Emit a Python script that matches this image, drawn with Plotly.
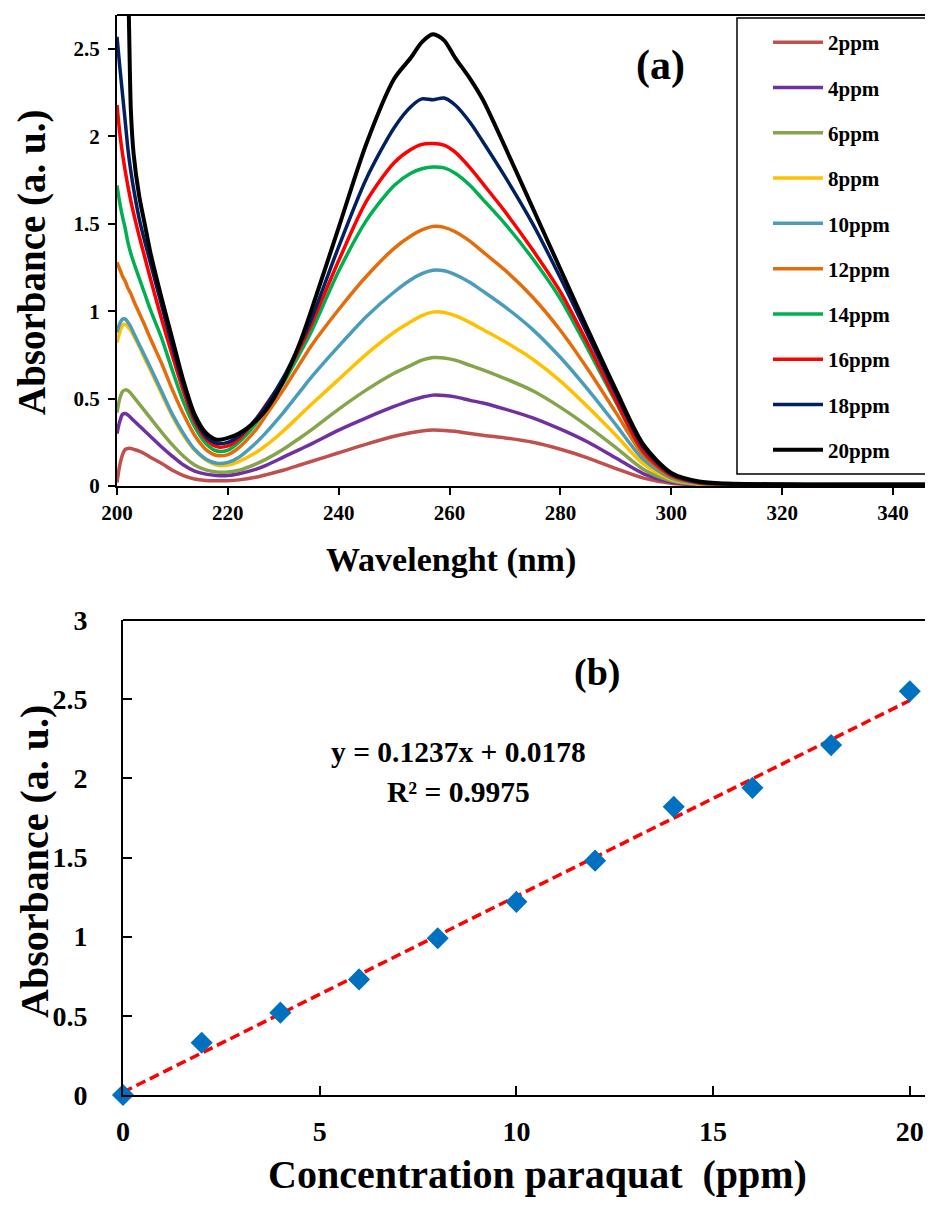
import plotly.graph_objects as go

# ---------------- Panel (a): UV-Vis spectra ----------------
wavelength = [200, 200.5, 201, 201.5, 202, 202.5, 203, 204, 205, 206, 208, 210, 212, 214, 216, 218,
              220, 222, 225, 227, 230, 233, 235, 240, 245, 250, 253, 255, 257, 259, 261, 263.7,
              266, 270, 275, 280, 285, 290, 295, 300, 305, 310, 320, 330, 340, 347]

a_2ppm = [0.02, 0.12, 0.18, 0.21, 0.215, 0.215, 0.21, 0.20, 0.185, 0.165, 0.13, 0.09, 0.06, 0.04, 0.032, 0.03,
          0.03, 0.035, 0.05, 0.065, 0.09, 0.12, 0.14, 0.19, 0.24, 0.285, 0.305, 0.315, 0.32, 0.318, 0.313, 0.30,
          0.29, 0.275, 0.25, 0.21, 0.16, 0.10, 0.045, 0.015, 0.006, 0.004, 0.003, 0.003, 0.003, 0.003]
a_4ppm = [0.30, 0.37, 0.41, 0.415, 0.405, 0.39, 0.375, 0.345, 0.315, 0.285, 0.225, 0.17, 0.12, 0.085, 0.068, 0.06,
          0.06, 0.07, 0.095, 0.12, 0.165, 0.21, 0.24, 0.32, 0.39, 0.455, 0.49, 0.508, 0.52, 0.518, 0.51, 0.49,
          0.475, 0.44, 0.39, 0.325, 0.25, 0.16, 0.07, 0.022, 0.008, 0.005, 0.004, 0.004, 0.004, 0.004]
a_6ppm = [0.42, 0.50, 0.54, 0.55, 0.545, 0.53, 0.51, 0.47, 0.43, 0.39, 0.31, 0.235, 0.17, 0.12, 0.092, 0.08,
          0.08, 0.09, 0.125, 0.155, 0.21, 0.275, 0.32, 0.44, 0.55, 0.645, 0.69, 0.72, 0.735, 0.733, 0.72, 0.69,
          0.665, 0.615, 0.545, 0.45, 0.34, 0.22, 0.095, 0.03, 0.01, 0.006, 0.005, 0.005, 0.005, 0.005]
a_8ppm = [0.82, 0.88, 0.92, 0.925, 0.91, 0.89, 0.86, 0.80, 0.73, 0.665, 0.53, 0.40, 0.29, 0.205, 0.15, 0.12,
          0.12, 0.14, 0.19, 0.235, 0.315, 0.405, 0.465, 0.61, 0.755, 0.88, 0.94, 0.975, 0.995, 0.993, 0.975, 0.935,
          0.895, 0.825, 0.725, 0.60, 0.45, 0.29, 0.125, 0.038, 0.012, 0.007, 0.006, 0.006, 0.006, 0.006]
a_10ppm = [0.88, 0.93, 0.955, 0.955, 0.935, 0.91, 0.875, 0.81, 0.745, 0.68, 0.545, 0.41, 0.30, 0.21, 0.155, 0.13,
           0.135, 0.165, 0.245, 0.31, 0.42, 0.54, 0.62, 0.80, 0.97, 1.11, 1.18, 1.215, 1.235, 1.232, 1.21, 1.165,
           1.115, 1.025, 0.895, 0.735, 0.55, 0.35, 0.15, 0.045, 0.014, 0.008, 0.006, 0.006, 0.006, 0.006]
a_12ppm = [1.28, 1.24, 1.20, 1.17, 1.13, 1.10, 1.06, 0.99, 0.92, 0.845, 0.705, 0.55, 0.41, 0.29, 0.21, 0.175,
           0.18, 0.22, 0.32, 0.41, 0.55, 0.70, 0.80, 1.01, 1.20, 1.36, 1.43, 1.465, 1.485, 1.48, 1.455, 1.40,
           1.34, 1.235, 1.08, 0.89, 0.665, 0.42, 0.175, 0.052, 0.016, 0.009, 0.007, 0.007, 0.007, 0.007]
a_14ppm = [1.72, 1.62, 1.54, 1.47, 1.39, 1.33, 1.28, 1.19, 1.10, 1.01, 0.85, 0.66, 0.48, 0.34, 0.245, 0.20,
           0.205, 0.25, 0.355, 0.45, 0.59, 0.76, 0.88, 1.23, 1.52, 1.72, 1.79, 1.815, 1.825, 1.82, 1.79, 1.72,
           1.64, 1.50, 1.30, 1.07, 0.78, 0.48, 0.19, 0.058, 0.018, 0.01, 0.008, 0.008, 0.008, 0.008]
a_16ppm = [2.18, 2.02, 1.90, 1.80, 1.71, 1.63, 1.56, 1.43, 1.31, 1.19, 0.96, 0.745, 0.54, 0.37, 0.27, 0.225,
           0.23, 0.27, 0.38, 0.47, 0.61, 0.79, 0.92, 1.29, 1.63, 1.85, 1.925, 1.955, 1.96, 1.95, 1.91, 1.82,
           1.73, 1.57, 1.35, 1.11, 0.81, 0.49, 0.195, 0.06, 0.019, 0.011, 0.008, 0.008, 0.008, 0.008]
a_18ppm = [2.57, 2.40, 2.24, 2.08, 1.92, 1.80, 1.70, 1.53, 1.40, 1.28, 1.04, 0.80, 0.575, 0.39, 0.285, 0.245,
           0.25, 0.285, 0.38, 0.465, 0.62, 0.81, 0.95, 1.37, 1.76, 2.05, 2.17, 2.215, 2.21, 2.22, 2.18, 2.08,
           1.97, 1.77, 1.50, 1.19, 0.86, 0.53, 0.22, 0.068, 0.022, 0.012, 0.009, 0.009, 0.009, 0.009]
a_20ppm = [3.6, 3.45, 3.3, 3.1, 2.85, 2.15, 1.9, 1.66, 1.50, 1.34, 1.08, 0.84, 0.60, 0.41, 0.305, 0.265,
           0.275, 0.30, 0.37, 0.44, 0.60, 0.82, 1.00, 1.48, 1.96, 2.33, 2.45, 2.54, 2.585, 2.55, 2.45, 2.33,
           2.21, 1.94, 1.59, 1.24, 0.89, 0.55, 0.235, 0.075, 0.026, 0.014, 0.01, 0.009, 0.009, 0.009]

series_names = ["2ppm", "4ppm", "6ppm", "8ppm", "10ppm", "12ppm", "14ppm", "16ppm", "18ppm", "20ppm"]
series_values = [a_2ppm, a_4ppm, a_6ppm, a_8ppm, a_10ppm, a_12ppm, a_14ppm, a_16ppm, a_18ppm, a_20ppm]
series_colors = ["#C0504D", "#7030A0", "#86A44A", "#FFC000", "#4A9DBA",
                 "#E46C0A", "#00B050", "#FF0000", "#002060", "#000000"]

a_xticks = [200, 220, 240, 260, 280, 300, 320, 340]
a_yticks = [0, 0.5, 1, 1.5, 2, 2.5]
a_ytick_text = ["0", "0.5", "1", "1.5", "2", "2.5"]

# ---------------- Panel (b): calibration ----------------
concentration = [0, 2, 4, 6, 8, 10, 12, 14, 16, 18, 20]
absorbance = [0, 0.33, 0.52, 0.73, 0.99, 1.22, 1.48, 1.82, 1.94, 2.21, 2.55]
slope = 0.1237
intercept = 0.0178
fit_x = [0, 20]
fit_y = [intercept + slope * v for v in fit_x]

b_xticks = [0, 5, 10, 15, 20]
b_yticks = [0, 0.5, 1, 1.5, 2, 2.5, 3]
b_ytick_text = ["0", "0.5", "1", "1.5", "2", "2.5", "3"]

W, H = 933, 1205
OFF = 8  # page body margin offset of the rendered figure


def px(x):
    return (x - OFF) / W


def py(y):
    return 1 - (y - OFF) / H


FONT = "Liberation Serif"

fig = go.Figure()

for name, vals, col in zip(series_names, series_values, series_colors):
    fig.add_trace(go.Scatter(
        x=wavelength, y=vals, mode="lines", name=name,
        line=dict(color=col, width=3.5 if col != "#000000" else 4, shape="spline", smoothing=0.8),
        xaxis="x", yaxis="y", legendgroup=name, showlegend=True,
    ))

fig.add_trace(go.Scatter(
    x=fit_x, y=fit_y, mode="lines", line=dict(color="#FF0000", width=3.5, dash="10px,5px"),
    xaxis="x2", yaxis="y2", showlegend=False,
))
fig.add_trace(go.Scatter(
    x=concentration, y=absorbance, mode="markers", cliponaxis=False,
    marker=dict(symbol="diamond", size=17, color="#0070C0"),
    xaxis="x2", yaxis="y2", showlegend=False,
))

axis_common = dict(showgrid=False, zeroline=False, showline=True, linecolor="black", linewidth=2,
                   tickcolor="black", tickwidth=2, automargin=False)


def ann(text, x, y, size, angle=0):
    return dict(text=text, x=px(x), y=py(y), xref="paper", yref="paper", showarrow=False,
                xanchor="center", yanchor="middle", textangle=angle,
                font=dict(family=FONT, size=size, color="black"))


fig.update_layout(
    width=W, height=H, autosize=False,
    margin=dict(l=0, r=0, t=0, b=0, pad=0),
    paper_bgcolor="white", plot_bgcolor="white",
    font=dict(family=FONT, color="black"),
    xaxis=dict(domain=[px(117), px(933)], range=[200, 347.2], tickvals=a_xticks,
               ticks="outside", ticklen=7, anchor="y",
               tickfont=dict(family=FONT, size=21, color="black", weight="bold"), **axis_common),
    yaxis=dict(domain=[py(486), py(15)], range=[0, 2.695], tickvals=a_yticks, ticktext=a_ytick_text,
               ticks="outside", ticklen=7, anchor="x", ticklabelstandoff=4,
               tickfont=dict(family=FONT, size=21, color="black", weight="bold"), **axis_common),
    xaxis2=dict(domain=[px(123), px(933)], range=[0, 20.59], tickvals=b_xticks,
                ticks="inside", ticklen=9, anchor="y2", ticklabelstandoff=10,
                tickfont=dict(family=FONT, size=28, color="black", weight="bold"), **axis_common),
    yaxis2=dict(domain=[py(1095), py(620)], range=[0, 3], tickvals=b_yticks, ticktext=b_ytick_text,
                ticks="inside", ticklen=9, anchor="x2", ticklabelstandoff=28,
                tickfont=dict(family=FONT, size=28, color="black", weight="bold"), **axis_common),
    legend=dict(x=px(768), y=py(22), xanchor="left", yanchor="top",
                bgcolor="rgba(0,0,0,0)", borderwidth=0,
                font=dict(family=FONT, size=21, color="black", weight="bold"),
                itemwidth=50, tracegroupgap=15, itemclick=False),
    shapes=[
        dict(type="line", xref="paper", yref="paper", x0=px(117), x1=px(933), y0=py(15), y1=py(15),
             line=dict(color="black", width=2)),
        dict(type="line", xref="paper", yref="paper", x0=px(123), x1=px(933), y0=py(620), y1=py(620),
             line=dict(color="black", width=2)),
        dict(type="rect", xref="paper", yref="paper", x0=px(737), x1=px(928), y0=py(474), y1=py(18),
             line=dict(color="black", width=1.5), fillcolor="white", layer="below"),
    ],
    annotations=[
        ann("<b>(a)</b>", 660, 65, 42),
        ann("<b>Wavelenght (nm)</b>", 451, 560, 34),
        ann("<b>Absorbance (a. u.)</b>", 32, 262, 39, -90),
        ann("<b>(b)</b>", 597, 672, 38),
        ann("<b>y = 0.1237x + 0.0178</b>", 458, 752, 29.5),
        ann("<b>R² = 0.9975</b>", 458, 792, 29.5),
        ann("<b>Concentration paraquat  (ppm)</b>", 537, 1174, 40),
        ann("<b>Absorbance (a. u.)</b>", 34, 862, 40, -90),
    ],
)

fig.write_html("out.html")
